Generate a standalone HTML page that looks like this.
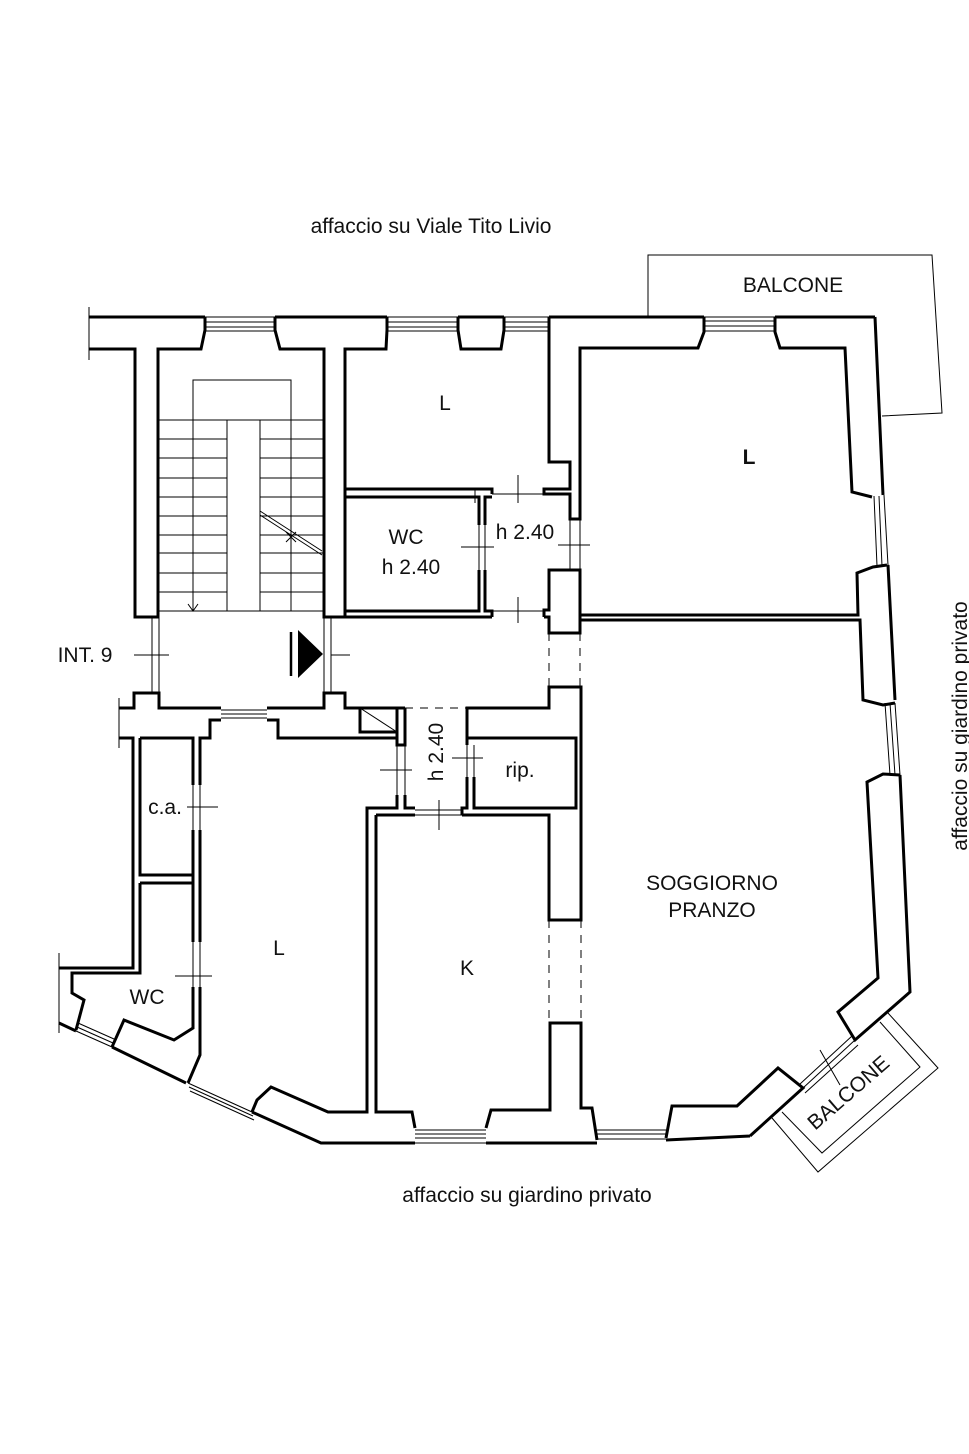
<!DOCTYPE html>
<html><head><meta charset="utf-8"><style>
html,body{margin:0;padding:0;background:#fff}
svg{display:block}
text{font-family:"Liberation Sans",Arial,sans-serif;fill:#111}
</style></head><body>
<svg width="969" height="1454" viewBox="0 0 969 1454" xmlns="http://www.w3.org/2000/svg">
<rect width="969" height="1454" fill="#fff"/>
<g fill="none" stroke="#000" stroke-width="3" stroke-linejoin="miter">
<path d="M89,317H205 M275,317H387 M458,317H504 M549,317H704 M775,317H875"/>
<path d="M89,349H135V617H158V349H201L205,330V317"/>
<path d="M275,317V330L280,349H324V617H345V349H386L387,330V317"/>
<path d="M458,317V330L461,349H501L504,330V317"/>
<path d="M549,317V462H570V489H544V494H570V519H580V348H698L704,332V317"/>
<path d="M775,317V332L780,348H845L852,492L872,497"/>
<path d="M875,317L883,495 M888,565L895,700 M900,775L910,992L855,1040L838,1012L878,978L867,782L883,774L900,775"/>
<path d="M887,565L873,567L857,573L858,615H580"/>
<path d="M580,620H860L863,700L883,705L895,703"/>
<path d="M345,489H492V494"/>
<path d="M345,497H479V525 M479,570V611H345V497"/>
<path d="M485,525V497H492 M485,570V611H492V617"/>
<path d="M345,617H492 M544,617H549V633H580V570H549V610H544V617"/>
<path d="M119,708H134V693H159V708H221 M267,708H324V693H345V708H405"/>
<path d="M119,738H133V968H59"/>
<path d="M140,738H193V785 M193,830V942 M193,987V1028L174,1040L124,1020L112,1047"/>
<path d="M140,738V875H193 M140,883H193 M140,883V973H72V993L84,1000L76,1030"/>
<path d="M200,785V738H210V720H221 M267,720H278V738H398 M200,830V942 M200,987V1055L188,1083"/>
<path d="M360,708V732H397 M397,708V745H405V708 M397,795V808H367V1112H328L271,1087L257,1100L252,1112"/>
<path d="M405,795V808H415 M376,815V1112H412L415,1128 M376,815H415 M462,815H549V920H581V687H549V708H467V738H576V808H474V777 M467,777V808H462V815 M467,738V745"/>
<path d="M486,1128L491,1110H550V1023H581V1108H592L597,1140"/>
<path d="M59,1023L76,1031 M112,1047L186,1083 M252,1112L321,1143H415 M486,1143H597 M666,1140L750,1136 M666,1138L672,1106H737L778,1068L803,1088L750,1136"/>
</g>
<g fill="none" stroke="#000" stroke-width="1">
<path d="M89,307V360 M59,953V1033 M119,698V748"/>
<path d="M205,322H275 M205,327H275 M205,331H275 M387,322H458 M387,327H458 M387,331H458 M504,322H549 M504,327H549 M504,331H549 M704,321H775 M704,326H775 M704,331H775 M704,317H775 M205,317H275 M387,317H458 M504,317H549"/>
<path d="M874,496L877,566 M879,496L882,566 M884,495L888,565 M885,703L890,775 M890,703L895,775 M895,703L900,775"/>
<path d="M221,710H267 M221,714H267 M221,718H267"/>
<path d="M415,1130H486 M415,1134H486 M415,1138H486 M415,1143H486 M597,1130H666 M597,1134H666 M597,1139H666"/>
<path d="M188,1083L252,1112 M189,1087L253,1116 M190,1091L254,1120 M76,1031L112,1047 M77,1027L113,1043 M78,1023L114,1039"/>
<path d="M803,1088L855,1040 M800,1084L852,1036 M805,1093L858,1045"/>
<path d="M134,655H169 M152,617V693 M159,617V693 M324,617V693 M331,617V693 M331,655H350"/>
<path d="M461,547H494 M558,545H590 M475,489V503 M518,475V503 M518,597V623 M492,494H544 M492,611H544 M479,525V570 M485,525V570 M570,519V570 M580,519V570"/>
<path d="M187,807H218 M175,976H212 M193,942V987 M200,942V987 M193,785V830 M200,785V830"/>
<path d="M380,770H412 M397,745V795 M405,745V795 M452,758H483 M467,745V777 M474,745V777 M415,815H462 M415,810H462 M439,800V830"/>
<path d="M360,708L397,732"/>
<path d="M820,1050L840,1085"/>
<path d="M405,708H467 M549,633V687 M580,633V687 M549,920V1023 M581,920V1023" stroke-dasharray="8,7"/>
<path d="M193,611V380H291V611 M227,420V611 M260,420V611"/>
<path d="M158,420H324 M158,439H227 M260,439H324 M158,458H227 M260,458H324 M158,478H227 M260,478H324 M158,497H227 M260,497H324 M158,516H227 M260,516H324 M158,535H227 M260,535H324 M158,553H227 M260,553H324 M158,573H227 M260,573H324 M158,592H227 M260,592H324 M158,611H324"/>
<path d="M188,604L193,611L198,604 M260,511L322,551 M260,515L322,555 M286,532L296,542 M296,532L286,542"/>
<path d="M648,317V255H932L942,413L882,416"/>
<path d="M772,1118L818,1172L938,1068L888,1013 M782,1112L822,1153L920,1067L880,1022"/>
</g>
<path d="M298,630L323,654L298,678Z" fill="#000"/>
<path d="M291,632V676" stroke="#000" stroke-width="2.5"/>
<g font-size="21">
<text x="431" y="233" text-anchor="middle">affaccio su Viale Tito Livio</text>
<text x="793" y="292" text-anchor="middle">BALCONE</text>
<text x="445" y="410" text-anchor="middle">L</text>
<text x="749" y="464" text-anchor="middle" font-weight="bold">L</text>
<text x="406" y="544" text-anchor="middle">WC</text>
<text x="411" y="574" text-anchor="middle">h 2.40</text>
<text x="525" y="539" text-anchor="middle">h 2.40</text>
<text x="85" y="662" text-anchor="middle">INT. 9</text>
<text x="165" y="814" text-anchor="middle">c.a.</text>
<text x="520" y="777" text-anchor="middle">rip.</text>
<text transform="translate(443,752) rotate(-90)" text-anchor="middle">h 2.40</text>
<text x="279" y="955" text-anchor="middle">L</text>
<text x="467" y="975" text-anchor="middle">K</text>
<text x="147" y="1004" text-anchor="middle">WC</text>
<text x="712" y="890" text-anchor="middle">SOGGIORNO</text>
<text x="712" y="917" text-anchor="middle">PRANZO</text>
<text transform="translate(853,1098) rotate(-41)" text-anchor="middle">BALCONE</text>
<text x="527" y="1202" text-anchor="middle">affaccio su giardino privato</text>
<text transform="translate(967,726) rotate(-90)" text-anchor="middle">affaccio su giardino privato</text>
</g>
</svg>
</body></html>
